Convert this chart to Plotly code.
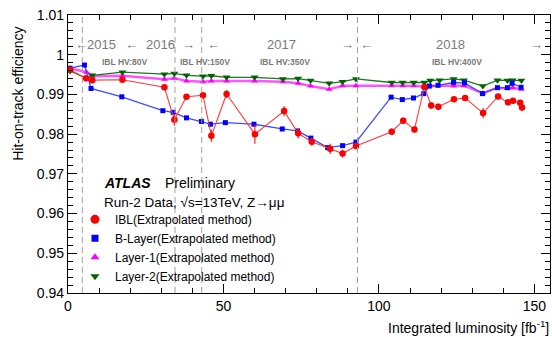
import plotly.graph_objects as go

# ---------------- data ----------------
ibl_x = [0.65, 5.8, 7.8, 17.5, 31.0, 34.2, 38.1, 43.4, 46.1, 51.0, 60.1, 69.5, 74.0, 78.4, 84.3,
         88.3, 92.6, 104.1, 107.8, 111.4, 114.6, 116.8, 119.1, 124.1, 127.7, 133.5, 138.3, 141.5,
         143.1, 145.4, 146.0]
ibl_y = [0.9962, 0.9941, 0.9936, 0.9937, 0.9918, 0.9836, 0.9894, 0.9898, 0.9796, 0.9901, 0.9800,
         0.9858, 0.9802, 0.9781, 0.9763, 0.9751, 0.9770, 0.9806, 0.9834, 0.9812, 0.9919, 0.9872,
         0.9869, 0.9888, 0.9891, 0.9853, 0.9895, 0.9880, 0.9884, 0.9879, 0.9867]
ibl_err = [0.0004, 0.0005, 0.0005, 0.0005, 0.0008, 0.0015, 0.0006, 0.0006, 0.0015, 0.0010, 0.0024,
           0.0013, 0.0013, 0.0010, 0.0013, 0.0010, 0.0008, 0.0008, 0.0008, 0.0008, 0.0005, 0.0008,
           0.0008, 0.0006, 0.0006, 0.0013, 0.0007, 0.0007, 0.0007, 0.0007, 0.0008]

blayer_x = [0.65, 5.3, 7.4, 17.3, 30.5, 33.8, 38.1, 42.9, 45.8, 50.6, 59.8, 68.9, 73.8, 78.1, 83.5,
            88.3, 92.6, 103.9, 107.5, 111.1, 114.4, 116.2, 119.0, 124.0, 127.5, 133.3, 138.1, 141.3,
            142.8, 145.7]
blayer_y = [0.9966, 0.9974, 0.9915, 0.9894, 0.9859, 0.9855, 0.9841, 0.9832, 0.9825, 0.9829, 0.9825,
            0.9813, 0.9808, 0.9790, 0.9766, 0.9771, 0.9780, 0.9893, 0.9887, 0.9891, 0.9902, 0.9921,
            0.9923, 0.9930, 0.9929, 0.9902, 0.9917, 0.9917, 0.9928, 0.9918]

layer1_x = [0.65, 6.0, 7.8, 17.5, 31.0, 34.2, 38.1, 43.4, 46.1, 51.0, 60.0, 69.1, 74.0, 78.0, 84.0,
            88.3, 92.6, 104.1, 107.6, 111.2, 114.6, 116.5, 119.0, 124.0, 127.3, 133.4, 138.1, 141.3,
            143.0, 145.8]
layer1_y = [0.9966, 0.9956, 0.9946, 0.9947, 0.9938, 0.9941, 0.9934, 0.9932, 0.9934, 0.9934, 0.9934,
            0.9932, 0.9928, 0.9921, 0.9913, 0.9922, 0.9922, 0.9922, 0.9922, 0.9922, 0.9920, 0.9922,
            0.9922, 0.9921, 0.9922, 0.9903, 0.9917, 0.9915, 0.9917, 0.9913]

layer2_x = [0.65, 5.8, 7.8, 17.5, 31.0, 34.2, 38.1, 43.4, 46.1, 51.0, 60.0, 69.1, 74.0, 78.0, 84.0,
            88.3, 92.6, 104.1, 107.6, 111.2, 114.6, 116.5, 119.5, 124.0, 127.3, 133.4, 138.1, 141.3,
            143.0, 145.8]
layer2_y = [0.9959, 0.9941, 0.9948, 0.9956, 0.9951, 0.9953, 0.9948, 0.9946, 0.9947, 0.9943, 0.9943,
            0.9939, 0.9940, 0.9935, 0.9928, 0.9932, 0.9939, 0.9930, 0.9930, 0.9930, 0.9930, 0.9935,
            0.9936, 0.9939, 0.9936, 0.9921, 0.9936, 0.9935, 0.9936, 0.9935]

period_boundaries = [4.6, 34.4, 43.0, 93.1]
year_labels = ["2015", "2016", "2017", "2018"]
year_label_x = [10.8, 29.7, 68.5, 123.0]
arrow_labels = ["←", "←", "→", "←", "→", "←", "→"]
arrow_x = [4.2, 20.3, 38.9, 46.9, 90.0, 96.1, 150.5]
hv_labels = ["IBL HV:80V", "IBL HV:150V", "IBL HV:350V", "IBL HV:400V"]
hv_label_x = [18.3, 44.0, 69.8, 125.0]
series_names = ["IBL(Extrapolated method)", "B-Layer(Extrapolated method)",
                "Layer-1(Extrapolated method)", "Layer-2(Extrapolated method)"]

FONT = "Liberation Sans, Arial, Helvetica, sans-serif"
GREY = "#7a7a7a"

fig = go.Figure()

# data traces (lines + markers), not in legend
fig.add_trace(go.Scatter(x=layer1_x, y=layer1_y, mode="lines+markers", showlegend=False,
                         line=dict(color="#ff55ff", width=2.5),
                         marker=dict(symbol="triangle-up", size=6, color="#ff00ff")))
fig.add_trace(go.Scatter(x=layer2_x, y=layer2_y, mode="lines+markers", showlegend=False,
                         line=dict(color="#1a7a1a", width=1.3),
                         marker=dict(symbol="triangle-down", size=7, color="#006400")))
fig.add_trace(go.Scatter(x=blayer_x, y=blayer_y, mode="lines+markers", showlegend=False,
                         line=dict(color="#3d4dff", width=1.3),
                         marker=dict(symbol="square", size=5, color="#0000ff")))
fig.add_trace(go.Scatter(x=ibl_x, y=ibl_y, mode="lines+markers", showlegend=False,
                         line=dict(color="#ff3a3a", width=1.1),
                         error_y=dict(type="data", array=ibl_err, color="#ff2020", thickness=1.2, width=0),
                         marker=dict(symbol="circle", size=6.5, color="#ff0000")))

# legend-only traces
legend_styles = [("circle", "#ff0000", 9), ("square", "#0000ff", 7),
                 ("triangle-up", "#ff00ff", 8), ("triangle-down", "#006400", 8)]
for name, (sym, col, sz) in zip(series_names, legend_styles):
    fig.add_trace(go.Scatter(x=[None], y=[None], mode="markers", name=name,
                             marker=dict(symbol=sym, color=col, size=sz)))

shapes = []
for b in period_boundaries:
    shapes.append(dict(type="line", xref="x", yref="paper", x0=b, x1=b, y0=0, y1=1,
                       line=dict(color="#a0a0a0", width=1, dash="6px,4px")))

annotations = []
for t, xv in zip(year_labels, year_label_x):
    annotations.append(dict(x=xv, y=0.928, xref="x", yref="paper", text=t, showarrow=False,
                            font=dict(family=FONT, size=13, color=GREY)))
for t, xv in zip(arrow_labels, arrow_x):
    annotations.append(dict(x=xv, y=0.928, xref="x", yref="paper", text=t, showarrow=False,
                            font=dict(family=FONT, size=13, color=GREY)))
for t, xv in zip(hv_labels, hv_label_x):
    annotations.append(dict(x=xv, y=0.857, xref="x", yref="paper", text="<b>" + t + "</b>",
                            showarrow=False, font=dict(family=FONT, size=8.5, color=GREY)))

annotations.append(dict(x=0.071, y=0.396, xref="paper", yref="paper", xanchor="left",
                        yanchor="middle", text="<b><i>ATLAS</i></b>", showarrow=False,
                        font=dict(family=FONT, size=14, color="black")))
annotations.append(dict(x=0.197, y=0.396, xref="paper", yref="paper", xanchor="left",
                        yanchor="middle", text="Preliminary", showarrow=False,
                        font=dict(family=FONT, size=14, color="black")))
annotations.append(dict(x=0.071, y=0.324, xref="paper", yref="paper", xanchor="left",
                        yanchor="middle", text="Run-2 Data, √s=13TeV, Z→μμ", showarrow=False,
                        font=dict(family=FONT, size=13.5, color="black")))
# axis titles
annotations.append(dict(x=-0.104, y=0.716, xref="paper", yref="paper", xanchor="center",
                        yanchor="middle", textangle=-90, text="Hit-on-track efficiency",
                        showarrow=False, font=dict(family=FONT, size=14, color="black")))
annotations.append(dict(x=1.002, y=-0.122, xref="paper", yref="paper", xanchor="right",
                        yanchor="middle", text="Integrated luminosity [fb<sup>-1</sup>]",
                        showarrow=False, font=dict(family=FONT, size=14, color="black")))

fig.update_layout(
    width=552, height=337,
    margin=dict(l=68, r=2, t=15, b=44, autoexpand=False),
    paper_bgcolor="white", plot_bgcolor="white",
    font=dict(family=FONT, size=14, color="black"),
    shapes=shapes, annotations=annotations,
    legend=dict(x=0.0145, y=0.317, xanchor="left", yanchor="top", bgcolor="rgba(0,0,0,0)",
                font=dict(family=FONT, size=12), itemwidth=30, tracegroupgap=0),
)
fig.update_xaxes(range=[0, 155], showline=True, linecolor="black", linewidth=1.2, mirror="ticks",
                 ticks="inside", ticklen=9, tickcolor="black", dtick=50, tick0=0,
                 minor=dict(ticks="inside", ticklen=5, dtick=10, tickcolor="black"),
                 showgrid=False, zeroline=False, automargin=False)
fig.update_yaxes(range=[0.94, 1.01], showline=True, linecolor="black", linewidth=1.2, mirror="ticks",
                 ticks="inside", ticklen=9, tickcolor="black", dtick=0.01, tick0=0.94,
                 tickformat="~r",
                 minor=dict(ticks="inside", ticklen=5, dtick=0.002, tickcolor="black"),
                 showgrid=False, zeroline=False, automargin=False)

fig.write_html("out.html", config={"displayModeBar": False},
               post_script="document.body.style.margin='0';document.body.style.overflow='hidden';")
